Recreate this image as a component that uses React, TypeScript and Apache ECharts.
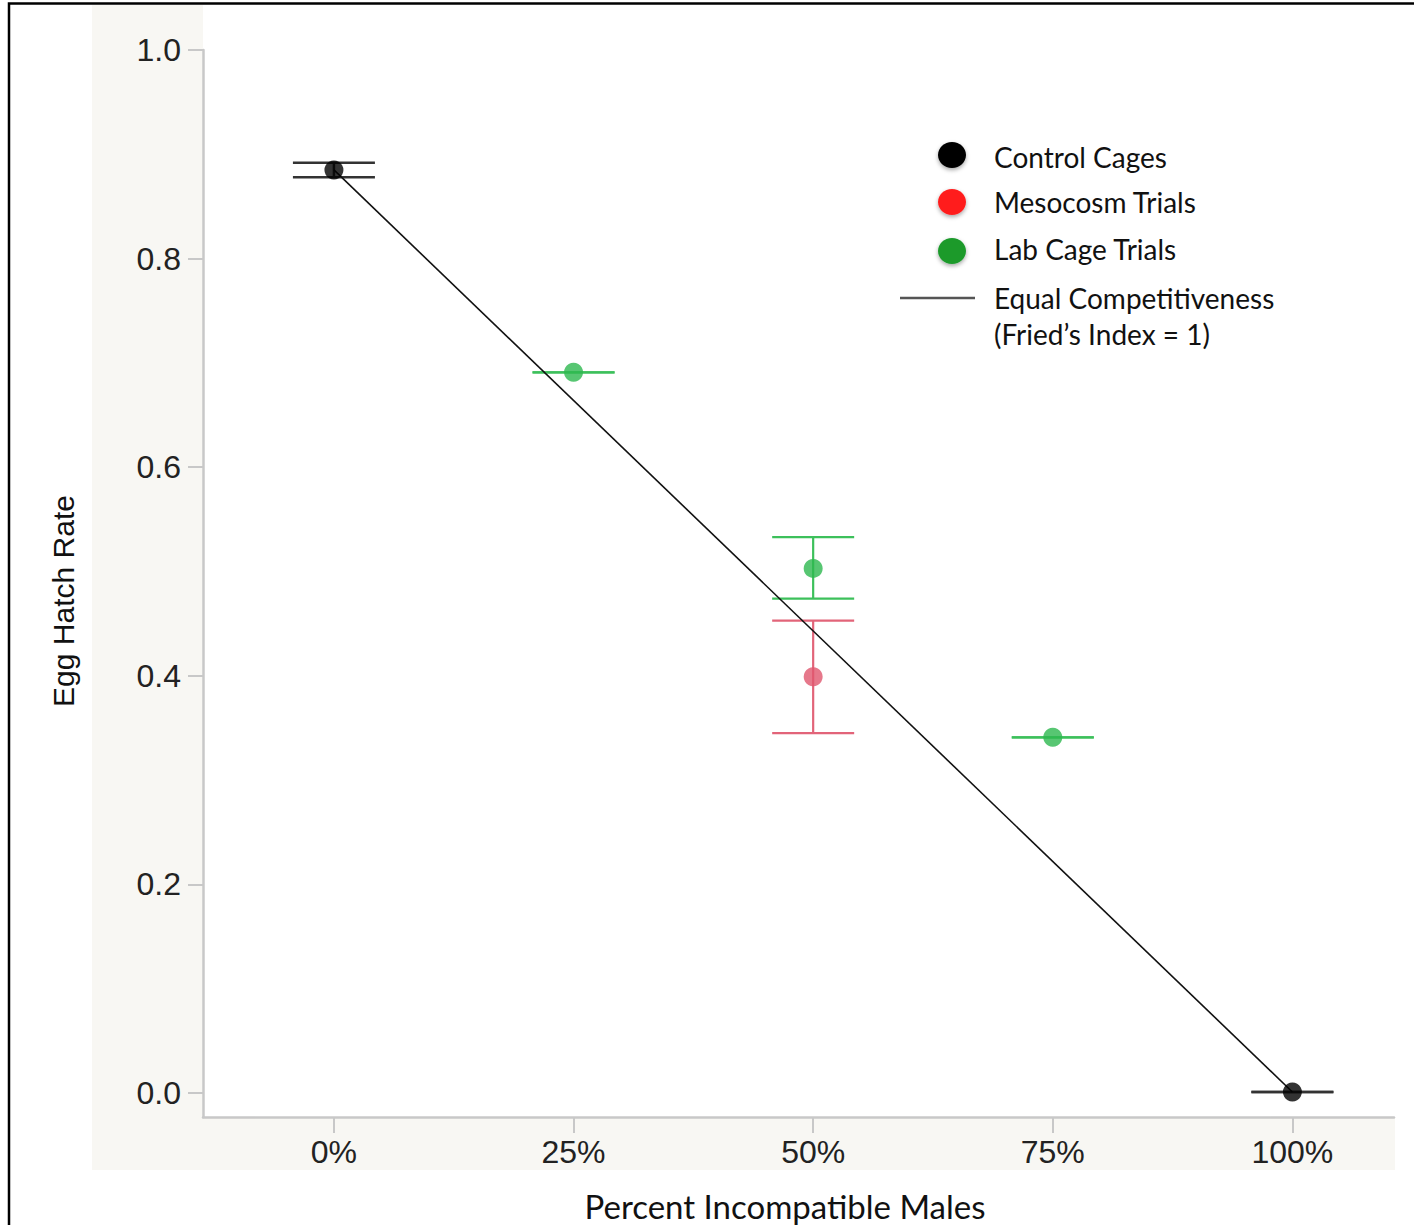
import React, { useEffect, useRef } from "react";
import * as echarts from "echarts";

// ---- data ----
const xTicks = [0, 25, 50, 75, 100];
const yTicks = [0, 0.2, 0.4, 0.6, 0.8, 1.0];

const controlX = [0, 100];
const controlY = [0.885, 0.001];
const controlLow = [0.878, 0.001];
const controlHigh = [0.892, 0.001];

const labX = [25, 50, 75];
const labY = [0.691, 0.503, 0.341];
const labLow = [0.691, 0.474, 0.341];
const labHigh = [0.691, 0.533, 0.341];

const mesoX = [50];
const mesoY = [0.399];
const mesoLow = [0.345];
const mesoHigh = [0.453];

const equalX = [0, 100];
const equalY = [0.885, 0.001];

const legendLabels = ["Control Cages", "Mesocosm Trials", "Lab Cage Trials", "Equal Competitiveness", "(Fried\u2019s Index = 1)"];

const CAP_HALF = 41;

function errSeries(name: string, xs: number[], lo: number[], hi: number[], color: string, width: number, z: number) {
  return {
    type: "custom",
    name,
    z,
    silent: true,
    data: xs.map((x, i) => [x, lo[i], hi[i]]),
    renderItem: (params: any, api: any) => {
      const x = api.value(0);
      const pLo = api.coord([x, api.value(1)]);
      const pHi = api.coord([x, api.value(2)]);
      const st = { stroke: color, lineWidth: width };
      return {
        type: "group",
        children: [
          { type: "line", shape: { x1: pLo[0], y1: pLo[1], x2: pHi[0], y2: pHi[1] }, style: st },
          { type: "line", shape: { x1: pLo[0] - CAP_HALF, y1: pLo[1], x2: pLo[0] + CAP_HALF, y2: pLo[1] }, style: st },
          { type: "line", shape: { x1: pHi[0] - CAP_HALF, y1: pHi[1], x2: pHi[0] + CAP_HALF, y2: pHi[1] }, style: st },
        ],
      };
    },
  };
}

export default function App() {
  const ref = useRef<HTMLDivElement>(null);
  useEffect(() => {
    if (!ref.current) return;
    const chart = echarts.init(ref.current, null, { renderer: "svg" });
    const tickFont = "Liberation Sans";
    const calFont = "Lato";
    const legendColors = ["#000000", "#ff1e1e", "#1b9a2c"];
    const legendY = [155, 202, 251];
    const legendGraphics: any[] = [];
    legendColors.forEach((c, i) => {
      legendGraphics.push({
        type: "ellipse",
        shape: { cx: 952, cy: legendY[i], rx: 14, ry: 13 },
        style: { fill: c, shadowBlur: 4, shadowColor: "rgba(0,0,0,0.35)", shadowOffsetY: 2 },
        z: 20,
      });
    });
    legendGraphics.push({
      type: "line",
      shape: { x1: 900, y1: 298, x2: 975, y2: 298 },
      style: { stroke: "#555", lineWidth: 2.5 },
      z: 20,
    });
    const textY = [157, 202, 249, 298, 334];
    legendLabels.forEach((t, i) => {
      legendGraphics.push({
        type: "text",
        x: 994,
        y: textY[i],
        style: { text: t, font: `28px ${calFont}`, fill: "#111", align: "left", verticalAlign: "middle" },
        z: 20,
      });
    });

    chart.setOption({
      animation: false,
      backgroundColor: "#ffffff",
      grid: { left: 203, right: 20, top: 50, bottom: 108, containLabel: false },
      xAxis: {
        type: "value",
        min: -13.66,
        max: 110.6,
        splitLine: { show: false },
        axisLine: { show: true, onZero: false, lineStyle: { color: "#c8c8c8", width: 2.5 } },
        axisTick: { show: true, customValues: xTicks, length: 16, lineStyle: { color: "#c8c8c8", width: 2 } },
        axisLabel: {
          customValues: xTicks,
          formatter: (v: number) => `${v}%`,
          margin: 19,
          fontFamily: tickFont,
          fontSize: 32,
          color: "#222",
        },
      },
      yAxis: {
        type: "value",
        min: -0.023,
        max: 1.0,
        splitLine: { show: false },
        axisLine: { show: true, onZero: false, lineStyle: { color: "#c8c8c8", width: 2.5 } },
        axisTick: { show: true, customValues: yTicks, length: 15, lineStyle: { color: "#c8c8c8", width: 2 } },
        axisLabel: {
          customValues: yTicks,
          formatter: (v: number) => v.toFixed(1),
          margin: 22,
          fontFamily: tickFont,
          fontSize: 32,
          color: "#222",
        },
      },
      graphic: [
        { type: "rect", shape: { x: 92, y: 5, width: 1303, height: 1165 }, style: { fill: "#f8f7f3" }, z: -10 },
        { type: "rect", shape: { x: 203, y: 5, width: 1192, height: 1112 }, style: { fill: "#ffffff" }, z: -9 },
        {
          type: "text",
          x: 785,
          y: 1206,
          style: { text: "Percent Incompatible Males", font: `33px ${calFont}`, fill: "#111", align: "center", verticalAlign: "middle" },
          z: 20,
        },
        {
          type: "text",
          x: 63,
          y: 601,
          rotation: Math.PI / 2,
          style: { text: "Egg Hatch Rate", font: `30px ${tickFont}`, fill: "#111", align: "center", verticalAlign: "middle" },
          z: 20,
        },
        ...legendGraphics,
        { type: "rect", shape: { x: 9, y: 3.5, width: 1420, height: 1240 }, style: { fill: "none", stroke: "#000", lineWidth: 2.5 }, z: 30 },
      ],
      series: [
        errSeries("Control err", controlX, controlLow, controlHigh, "#333333", 2.5, 1),
        errSeries("Lab err", labX, labLow, labHigh, "#3dc05b", 2.2, 1),
        errSeries("Meso err", mesoX, mesoLow, mesoHigh, "#e26479", 2.2, 1),
        {
          type: "line",
          name: "Equal Competitiveness",
          data: equalX.map((x, i) => [x, equalY[i]]),
          symbol: "none",
          lineStyle: { color: "#111", width: 1.6 },
          z: 2,
        },
        {
          type: "scatter",
          name: "Control Cages",
          data: controlX.map((x, i) => [x, controlY[i]]),
          symbolSize: 19,
          itemStyle: { color: "#000" },
          z: 3,
        },
        {
          type: "scatter",
          name: "Lab Cage Trials",
          data: labX.map((x, i) => [x, labY[i]]),
          symbolSize: 19,
          itemStyle: { color: "#2db84f" },
          z: 3,
        },
        {
          type: "scatter",
          name: "Mesocosm Trials",
          data: mesoX.map((x, i) => [x, mesoY[i]]),
          symbolSize: 19,
          itemStyle: { color: "#e0566e" },
          z: 3,
        },
      ],
    });
    return () => chart.dispose();
  }, []);
  return <div ref={ref} style={{ position: "fixed", left: 0, top: 0, width: 1414, height: 1225 }} />;
}
